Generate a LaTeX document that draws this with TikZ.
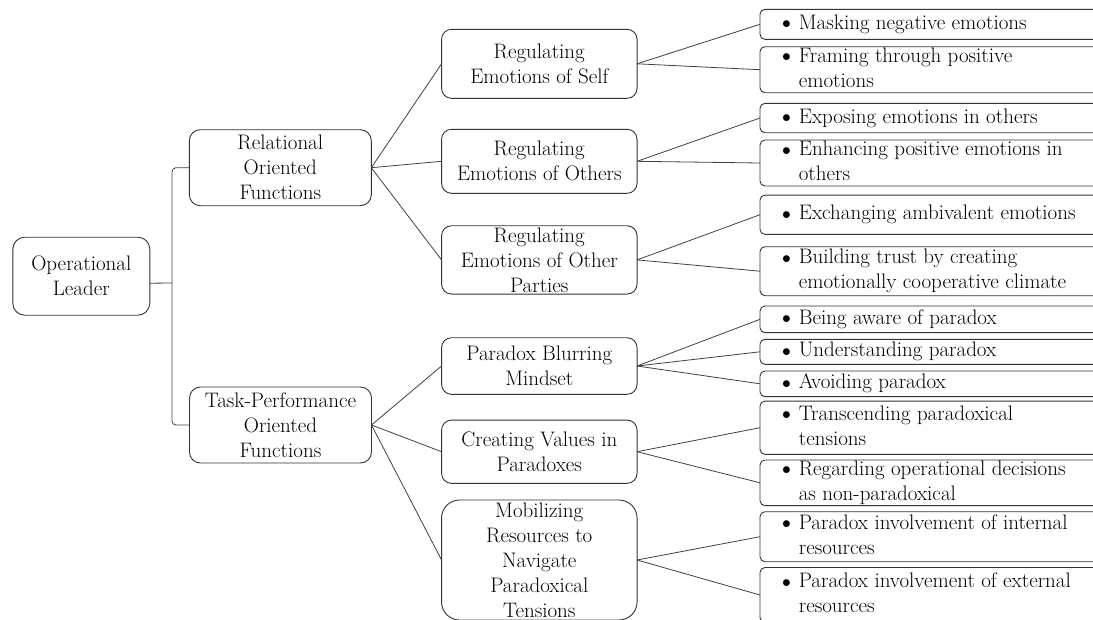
\documentclass[tikz,border=0pt]{standalone}
\usepackage{fontspec}
\usepackage{graphicx}
\newcommand\bul{\raisebox{0.02em}{\scalebox{0.85}{$\bullet$}}}
\newcommand\bulletitem[1]{\begin{tabular}{@{}l@{\hspace{8pt}}l@{}}\bul&#1\end{tabular}}
\begin{document}
\begin{tikzpicture}[x=1pt,y=-1pt,
  every node/.style={inner sep=0pt, outer sep=0pt},
  box/.style={draw=black!80, line width=0.9pt, rounded corners=#1},
  box/.default=10pt,
  lvl0/.style={box=12pt, minimum width=137pt, minimum height=78pt},
  lvl1/.style={box=11pt, minimum width=182pt, minimum height=76pt},
  lvl2/.style={box=10pt, minimum width=195.5pt},
  leaf/.style={box=5pt, minimum width=350pt},
  txt/.style={font=\rmfamily\fontsize{21pt}{25pt}\selectfont, align=center},
  ltxt/.style={font=\rmfamily\fontsize{21pt}{25pt}\selectfont, anchor=west},
  conn/.style={draw=black!75, line width=0.8pt}
]
\useasboundingbox (0,0) rectangle (1093,619);

% root and first level
\node[lvl0] (root) at (81.3,276.2) {};
\node[lvl1] (rel) at (280.3,167.7) {};
\node[lvl1] (task) at (280.5,425) {};

% second level
\node[lvl2, minimum height=69pt] (rs) at (539.3,63.8) {};
\node[lvl2, minimum height=64pt] (ro) at (539.3,161.3) {};
\node[lvl2, minimum height=68.3pt] (rp) at (539.3,259.9) {};
\node[lvl2, minimum height=56.6pt] (pb) at (539.3,366) {};
\node[lvl2, minimum height=63.3pt] (cv) at (539.3,451.7) {};
\node[lvl2, box=18pt, minimum height=120pt] (mr) at (539.3,560) {};

% leaves
\node[leaf, minimum height=30pt] (m1) at (935,24.3) {};
\node[leaf, minimum height=46pt] (m2) at (935,69.7) {};
\node[leaf, minimum height=29.4pt] (m3) at (935,118) {};
\node[leaf, minimum height=46pt] (m4) at (935,163) {};
\node[leaf, minimum height=39.3pt] (m5) at (935,214.7) {};
\node[leaf, minimum height=49pt] (m6) at (935,271.2) {};
\node[leaf, minimum height=26.7pt] (m7) at (935,319.3) {};
\node[leaf, minimum height=25pt] (m8) at (935,351.8) {};
\node[leaf, minimum height=25.7pt] (m9) at (935,383.8) {};
\node[leaf, minimum height=53.3pt] (m10) at (935,427.7) {};
\node[leaf, minimum height=45.7pt] (m11) at (935,482.8) {};
\node[leaf, minimum height=50pt] (m12) at (935,536.7) {};
\node[leaf, minimum height=55pt] (m13) at (935,595) {};

% texts
\node[txt] (root-t) at (root.center) {Operational\\Leader};
\node[txt] (rel-t) at (rel.center) {Relational\\Oriented\\Functions};
\node[txt] (task-t) at (task.center) {Task-Performance\\Oriented\\Functions};
\node[txt] (rs-t) at (rs.center) {Regulating\\Emotions of Self};
\node[txt] (ro-t) at (ro.center) {Regulating\\Emotions of Others};
\node[txt] (rp-t) at (rp.center) {Regulating\\Emotions of Other\\Parties};
\node[txt] (pb-t) at (pb.center) {Paradox Blurring\\Mindset};
\node[txt] (cv-t) at (cv.center) {Creating Values in\\Paradoxes};
\node[txt] (mr-t) at (mr.center) {Mobilizing\\Resources to\\Navigate\\Paradoxical\\Tensions};

\node[ltxt] (m1-t) at ([xshift=22]m1.west) {\bulletitem{Masking negative emotions}};
\node[ltxt] (m2-t) at ([xshift=22]m2.west) {\bulletitem{Framing through positive\\&emotions}};
\node[ltxt] (m3-t) at ([xshift=22]m3.west) {\bulletitem{Exposing emotions in others}};
\node[ltxt] (m4-t) at ([xshift=22]m4.west) {\bulletitem{Enhancing positive emotions in\\&others}};
\node[ltxt] (m5-t) at ([xshift=22]m5.west) {\bulletitem{Exchanging ambivalent emotions}};
\node[ltxt] (m6-t) at ([xshift=22]m6.west) {\bulletitem{Building trust by creating\\&emotionally cooperative climate}};
\node[ltxt] (m7-t) at ([xshift=22]m7.west) {\bulletitem{Being aware of paradox}};
\node[ltxt] (m8-t) at ([xshift=22]m8.west) {\bulletitem{Understanding paradox}};
\node[ltxt] (m9-t) at ([xshift=22]m9.west) {\bulletitem{Avoiding paradox}};
\node[ltxt] (m10-t) at ([xshift=22]m10.west) {\bulletitem{Transcending paradoxical\\&tensions}};
\node[ltxt] (m11-t) at ([xshift=22]m11.west) {\bulletitem{Regarding operational decisions\\&as non-paradoxical}};
\node[ltxt] (m12-t) at ([xshift=22]m12.west) {\bulletitem{Paradox involvement of internal\\&resources}};
\node[ltxt] (m13-t) at ([xshift=22]m13.west) {\bulletitem{Paradox involvement of external\\&resources}};

% brace joining the root to the first level
\coordinate (br) at (172,283);
\draw[conn] ([yshift=-7pt]root.east) -- (br);
\draw[conn, rounded corners=4pt] (rel.west) -| (br) |- (task.west);

% first level to second level
\foreach \a/\b in {rel/rs, rel/ro, rel/rp, task/pb, task/cv, task/mr}
  \draw[conn] (\a.east) -- (\b.west);

% second level to leaves
\foreach \a/\b in {rs/m1, rs/m2, ro/m3, ro/m4, rp/m5, rp/m6,
                   pb/m7, pb/m8, pb/m9, cv/m10, cv/m11, mr/m12, mr/m13}
  \draw[conn] (\a.east) -- (\b.west);
\end{tikzpicture}
\end{document}
